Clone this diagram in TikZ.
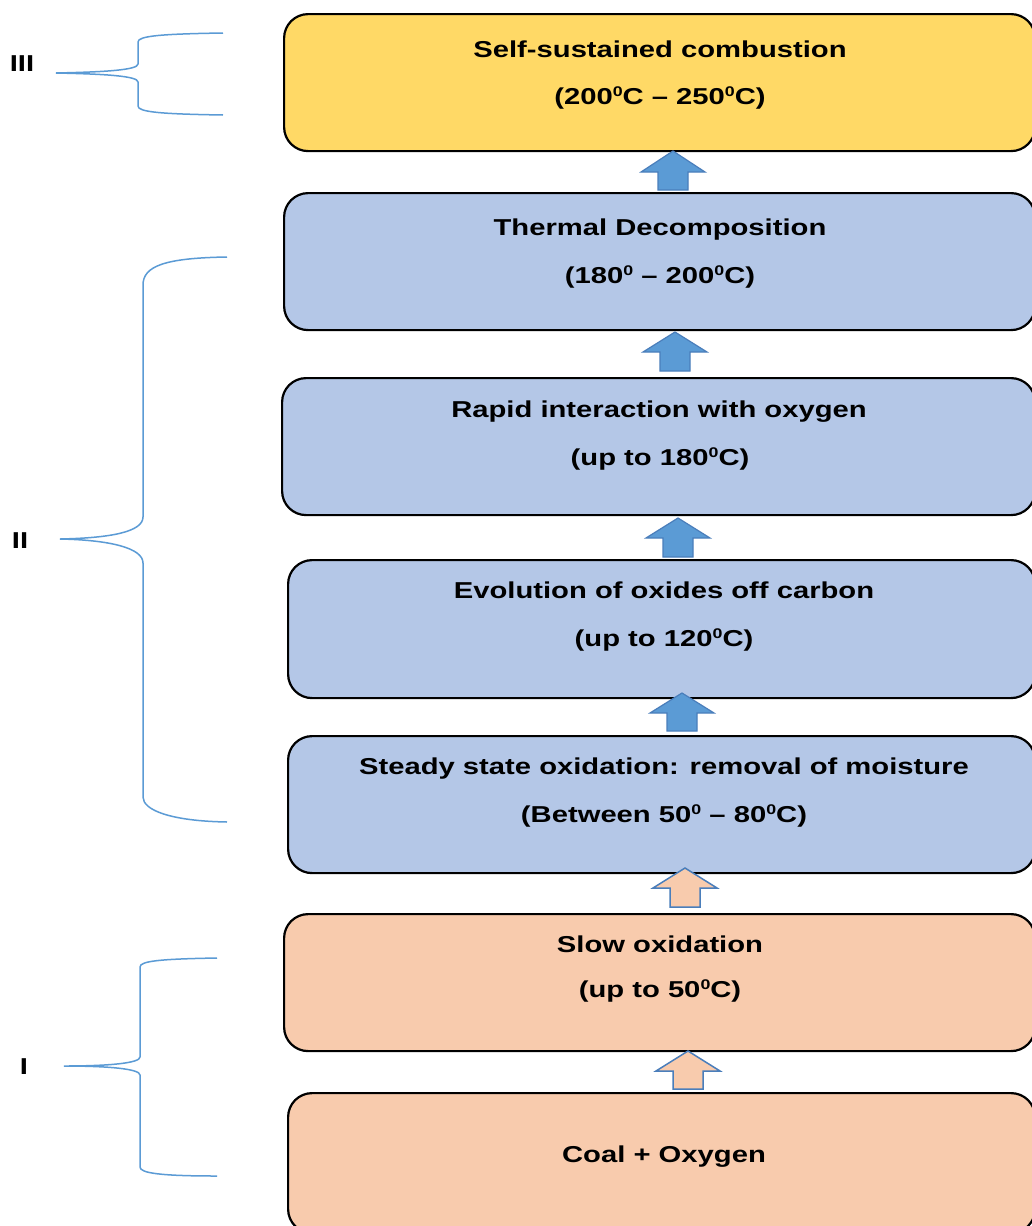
\documentclass[tikz,border=0pt]{standalone}
\usepackage{fontspec}
\newfontfamily\lbl{Liberation Sans}[FakeStretch=1.27,Ligatures=TeX]
\definecolor{ylw}{HTML}{FFD966}
\definecolor{blu}{HTML}{B4C7E7}
\definecolor{org}{HTML}{F8CBAD}
\definecolor{arrfill}{HTML}{5B9BD5}
\definecolor{arrline}{HTML}{4A7EBB}
\definecolor{brc}{HTML}{5B9BD5}
\newcommand\sdeg{\raisebox{7.5pt}{\fontsize{14}{14}\selectfont 0}}
\newcommand\blkarrow[5]{%
  \draw[#5] (#1,#2) -- (#1+32,#3) -- (#1+15,#3) -- (#1+15,#4) -- (#1-15,#4) -- (#1-15,#3) -- (#1-32,#3) -- cycle;}
\tikzset{
  box/.style={draw=black, line width=2.2pt, rounded corners=24pt, anchor=north west, minimum height=137pt},
  txt/.style={font=\lbl\bfseries\fontsize{23}{28}\selectfont, text=black, anchor=base, inner sep=0pt},
  bluearr/.style={fill=arrfill, draw=arrline, line width=1.2pt, line join=miter},
  orgarr/.style={fill=org, draw=arrline, line width=1.5pt, line join=miter},
  bracepath/.style={draw=brc, line width=1.5pt}
}
\begin{document}
\begin{tikzpicture}[x=1pt,y=-1pt]
\useasboundingbox (0,0) rectangle (1032,1226);
\fill[white] (0,0) rectangle (1032,1226);

% boxes
\node[box, fill=ylw, minimum width=751pt] (b1) at (283,13) {};
\node[box, fill=blu, minimum width=751pt] (b2) at (283,192) {};
\node[box, fill=blu, minimum width=753pt] (b3) at (281,377) {};
\node[box, fill=blu, minimum width=747pt, minimum height=138pt] (b4) at (287,559) {};
\node[box, fill=blu, minimum width=747pt] (b5) at (287,735) {};
\node[box, fill=org, minimum width=751pt] (b6) at (283,913) {};
\node[box, fill=org, minimum width=747pt, minimum height=140pt] (b7) at (287,1092) {};

% texts
\node[txt] (t1a) at (660,57) {Self-sustained combustion};
\node[txt] (t1b) at (660,104) {(200\sdeg C – 250\sdeg C)};
\node[txt] (t2a) at (660,235) {Thermal Decomposition};
\node[txt] (t2b) at (660,283) {(180\sdeg{} – 200\sdeg C)};
\node[txt] (t3a) at (659,417) {Rapid interaction with oxygen};
\node[txt] (t3b) at (660,465) {(up to 180\sdeg C)};
\node[txt] (t4a) at (664,598) {Evolution of oxides off carbon};
\node[txt] (t4b) at (664,646) {(up to 120\sdeg C)};
\node[txt] (t5a) at (664,774) {Steady state oxidation: removal of moisture};
\node[txt] (t5b) at (664,822) {(Between 50\sdeg{} – 80\sdeg C)};
\node[txt] (t6a) at (660,952) {Slow oxidation};
\node[txt] (t6b) at (660,997) {(up to 50\sdeg C)};
\node[txt] (t7) at (664,1162) {Coal + Oxygen};

% arrows
\blkarrow{673}{151}{172}{190}{bluearr}
\blkarrow{675}{332}{352}{371}{bluearr}
\blkarrow{678}{518}{538}{557}{bluearr}
\blkarrow{682}{693}{713}{731}{bluearr}
\blkarrow{685}{868}{888}{907}{orgarr}
\blkarrow{688}{1051}{1071}{1089}{orgarr}

% braces
\draw[bracepath] (223,33) .. controls (160,34) and (138,36) .. (138,42) -- (138,64)
  .. controls (138,70) and (105,72) .. (56,73)
  .. controls (105,74) and (138,76) .. (138,82) -- (138,106)
  .. controls (138,112) and (160,114) .. (223,115);
\draw[bracepath] (227,257) .. controls (165,258) and (143,266) .. (143,285) -- (143,517)
  .. controls (143,532) and (110,538) .. (60,539)
  .. controls (110,540) and (143,548) .. (143,563) -- (143,797)
  .. controls (143,810) and (170,821) .. (227,822);
\draw[bracepath] (217,958) .. controls (160,959) and (140,961) .. (140,967) -- (140,1057)
  .. controls (140,1063) and (110,1066) .. (64,1066)
  .. controls (110,1066) and (140,1069) .. (140,1075) -- (140,1167)
  .. controls (140,1173) and (160,1176) .. (217,1176);

% labels
\node[txt, anchor=center] (l3) at (22,64) {III};
\node[txt, anchor=center] (l2) at (20,541) {II};
\node[txt, anchor=center] (l1) at (24,1067) {I};
\end{tikzpicture}
\end{document}
